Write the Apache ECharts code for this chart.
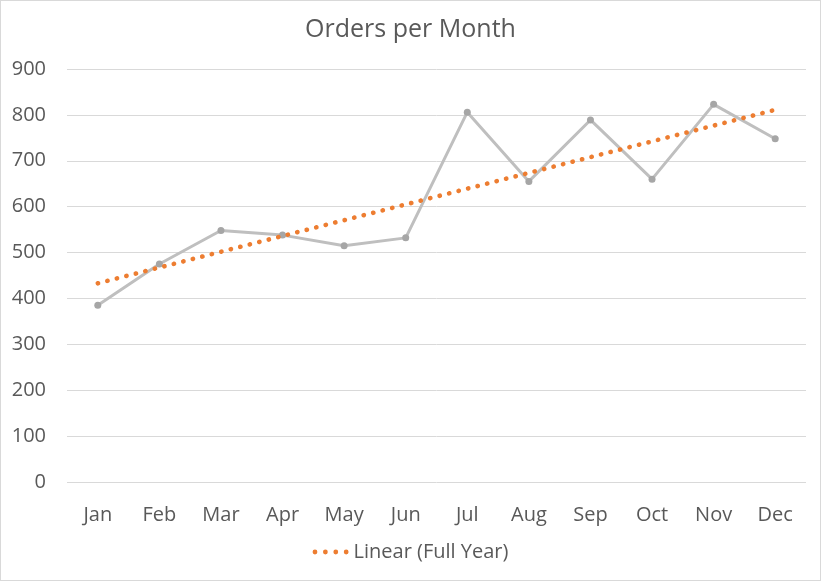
<!DOCTYPE html>
<html><head><meta charset="utf-8">
<script src="https://cdn.jsdelivr.net/npm/echarts@6/dist/echarts.min.js"></script>
<style>html,body{margin:0;padding:0;background:#fff}#c{width:819px;height:579px;border:1px solid #d9d9d9}</style>
</head><body><div id="c"></div>
<script>
const months = ['Jan','Feb','Mar','Apr','May','Jun','Jul','Aug','Sep','Oct','Nov','Dec'];
const orders = [385,475,548,538,515,532,806,655,789,660,823,748];
const trendStart = 433;
const trendEnd = 811;
const yTicks = [0,100,200,300,400,500,600,700,800,900];

const trend = months.map((m,i)=> i===0 ? trendStart : (i===months.length-1 ? trendEnd : null));
const chart = echarts.init(document.getElementById('c'));
const font = '"Open Sans", "Noto Sans", sans-serif';
let dots = '';
for (let k = 0; k < 4; k++) { const cx = 2.4 + k * 10.4; dots += 'M' + (cx - 2.4) + ',2.4a2.4,2.4 0 1,0 4.8,0a2.4,2.4 0 1,0 -4.8,0Z'; }
chart.setOption({
  animation:false,
  title:{text:'Orders per Month', left:'center', top:11, textStyle:{color:'#595959', fontSize:25, fontWeight:'normal', fontFamily:font}},
  grid:{left:66, right:14, top:68, bottom:98},
  legend:{data:[{name:'Linear (Full Year)', icon:'path://' + dots}], bottom:13, left:'center', itemWidth:36, itemHeight:5, itemGap:6,
    textStyle:{color:'#595959', fontSize:20, fontFamily:font}},
  xAxis:{type:'category', data:months, boundaryGap:true,
    axisLine:{show:false}, axisTick:{show:false},
    axisLabel:{color:'#595959', fontSize:20, fontFamily:font, margin:23}},
  yAxis:{type:'value', min:yTicks[0], max:yTicks[yTicks.length-1], interval:100,
    axisLine:{show:false}, axisTick:{show:false},
    axisLabel:{color:'#595959', fontSize:20, fontFamily:font, margin:21},
    splitLine:{lineStyle:{color:'#d9d9d9', width:1}}},
  series:[
    {name:'Orders', type:'line', data:orders, symbol:'circle', symbolSize:7,
     lineStyle:{color:'#bfbfbf', width:3}, itemStyle:{color:'#a6a6a6'}, z:2},
    {name:'Linear (Full Year)', type:'line', data:trend, connectNulls:true, symbol:'none',
     lineStyle:{color:'#ed7d31', width:4.6, type:[0.3,9.5], cap:'round'}, itemStyle:{color:'#ed7d31'}, z:3}
  ]
});
</script></body></html>
